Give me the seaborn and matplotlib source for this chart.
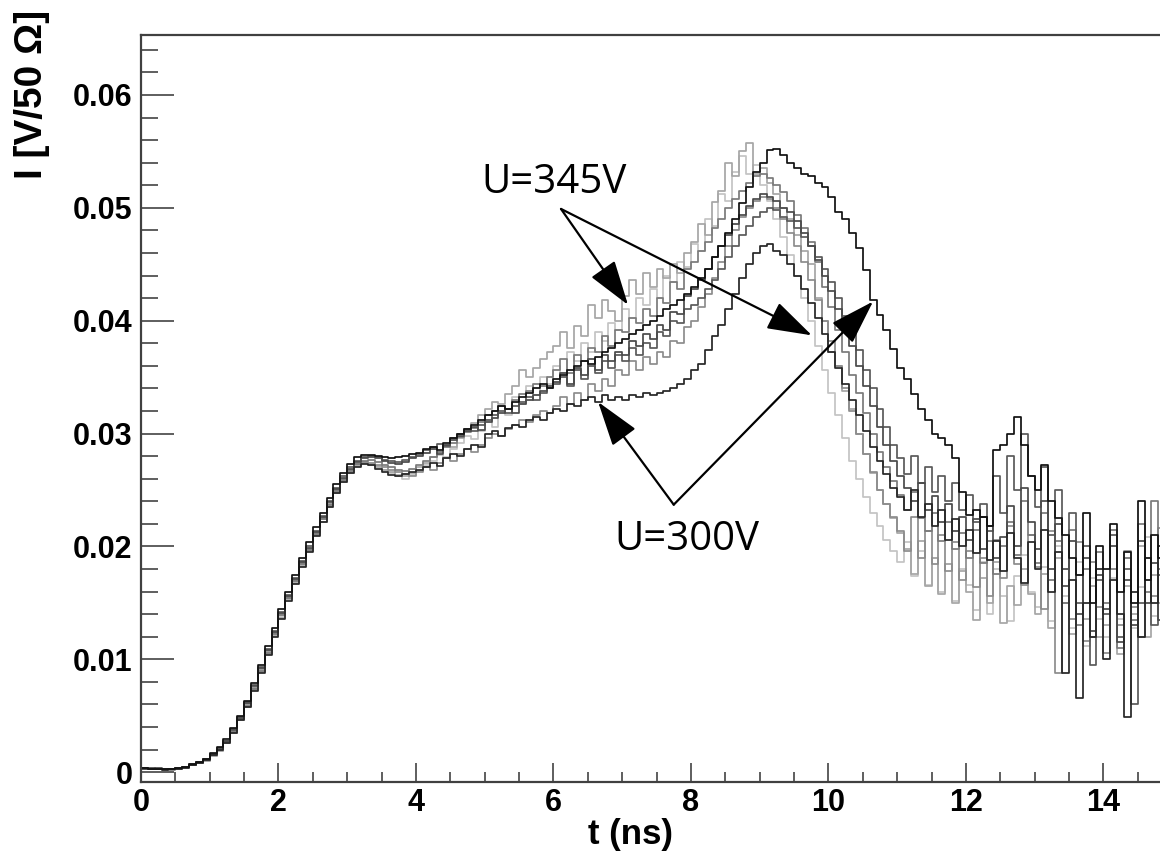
import numpy as np
import pandas as pd
import matplotlib
matplotlib.use("Agg")
import matplotlib.pyplot as plt
import seaborn as sns
from matplotlib.ticker import MultipleLocator, FuncFormatter

# ---------------- data (current in units of 1e-4 V/50 Ohm, 0.1 ns bins) -------------
BIN_NS = 0.1

trace_t1 = [3, 4, 3, 2, 3, 4, 4, 6, 8, 10, 14, 19, 26, 35, 46, 58, 73, 89, 105, 121, 137, 153, 168, 183, 196, 210, 222, 235, 247, 257, 265, 271, 274,
            272, 270, 268, 266, 263, 262, 265,
            270, 274, 279, 284, 290, 288, 296, 303, 309, 316,
            322, 328, 326, 335, 342, 356, 350, 358, 366, 372,
            378, 390, 376, 395, 386, 414, 402, 418, 409, 400,
            422, 436, 424, 442, 430, 446, 438, 450, 442, 460,
            470, 486, 476, 505, 515, 540, 528, 550, 557, 530,
            535, 522, 512, 500, 490, 476, 462, 450, 420, 400,
            372, 360, 338, 322, 300, 282, 265, 250, 238, 225,
            212, 198, 176, 205, 165, 190, 158, 184, 150, 178,
            160, 135, 172, 150, 186, 132, 165, 148, 180, 158,
            140, 176, 128, 190, 150, 122, 175, 136, 165, 120,
            130, 180, 105, 165, 140, 200, 120, 175, 150, 190]

trace_t2 = [4, 3, 3, 3, 2, 3, 5, 6, 8, 11, 15, 20, 27, 36, 47, 59, 74, 90, 106, 122, 139, 154, 169, 184, 197, 211, 224, 237, 249, 259, 267, 273, 276,
            277, 275, 272, 270, 268, 267, 269,
            272, 276, 279, 284, 288, 292, 297, 301, 305, 310,
            316, 320, 324, 322, 330, 335, 338, 344, 342, 350,
            356, 366, 354, 370, 364, 376, 372, 386, 378, 392,
            390, 402, 398, 410, 404, 420, 416, 434, 428, 446,
            452, 462, 470, 482, 490, 500, 508, 515, 522, 528,
            530, 526, 520, 514, 506, 494, 482, 470, 452, 430,
            412, 392, 372, 352, 336, 318, 300, 284, 270, 258,
            246, 232, 248, 225, 214, 230, 205, 222, 198, 212,
            190, 215, 185, 205, 176, 200, 222, 192, 240, 210,
            185, 230, 170, 205, 150, 215, 130, 180, 120, 195,
            150, 215, 110, 190, 135, 220, 160, 240, 180, 215]

trace_t3 = [3, 3, 4, 3, 3, 4, 5, 6, 9, 12, 16, 21, 28, 37, 48, 61, 76, 92, 108, 124, 141, 156, 171, 186, 199, 213, 226, 239, 251, 261, 269, 275, 278,
            279, 278, 276, 274, 273, 275, 278,
            280, 283, 286, 282, 290, 294, 298, 302, 306, 303,
            310, 314, 318, 322, 318, 326, 330, 334, 338, 342,
            346, 354, 344, 358, 352, 366, 356, 370, 364, 372,
            370, 382, 378, 388, 384, 396, 392, 408, 406, 422,
            428, 436, 446, 456, 466, 476, 486, 494, 502, 508,
            512, 510, 506, 500, 496, 488, 478, 466, 454, 440,
            426, 410, 394, 378, 360, 342, 324, 306, 290, 276,
            262, 252, 240, 256, 232, 245, 222, 238, 214, 226,
            206, 224, 198, 218, 190, 208, 236, 200, 252, 222,
            198, 240, 180, 220, 165, 205, 140, 190, 125, 175,
            145, 200, 115, 170, 130, 205, 150, 185, 135, 210]

trace_t4 = [4, 3, 3, 3, 3, 4, 5, 7, 9, 12, 17, 22, 29, 39, 50, 63, 79, 95, 112, 128, 145, 160, 175, 190, 204, 217, 230, 243, 255, 265, 273, 279, 281,
            281, 280, 279, 278, 279, 280, 282,
            283, 286, 288, 285, 292, 296, 300, 304, 308, 312,
            316, 320, 324, 322, 328, 332, 336, 340, 344, 340,
            348, 352, 356, 360, 364, 362, 368, 372, 376, 380,
            384, 388, 392, 396, 400, 404, 410, 414, 418, 424,
            430, 438, 446, 456, 466, 478, 490, 504, 518, 532,
            540, 551, 552, 547, 540, 535, 530, 528, 522, 518,
            510, 496, 490, 478, 464, 445, 418, 405, 392, 375,
            358, 348, 335, 322, 312, 300, 296, 290, 278, 248,
            228, 232, 226, 218, 285, 290, 300, 315, 290, 262,
            250, 272, 240, 225, 210, 190, 175, 230, 150, 200,
            180, 220, 160, 195, 150, 240, 170, 210, 190, 230]

trace_t5 = [4, 3, 3, 2, 3, 3, 4, 6, 8, 11, 15, 20, 26, 35, 46, 58, 72, 88, 104, 120, 136, 152, 167, 182, 195, 209, 222, 235, 247, 257, 265, 270, 273,
            272, 269, 266, 263, 262, 264, 266,
            268, 270, 274, 271, 278, 282, 280, 286, 290, 288,
            300, 302, 298, 305, 308, 306, 312, 315, 312, 318,
            322, 320, 326, 324, 330, 332, 328, 334, 330, 332,
            330, 334, 332, 336, 334, 336, 338, 340, 344, 348,
            356, 362, 374, 386, 396, 410, 424, 438, 450, 460,
            466, 468, 462, 458, 450, 440, 428, 416, 402, 388,
            372, 358, 344, 330, 316, 302, 288, 276, 264, 252,
            244, 232, 250, 226, 238, 218, 232, 206, 224, 200,
            215, 194, 226, 188, 205, 178, 212, 190, 168, 204,
            180, 215, 160, 195, 88, 170, 66, 150, 120, 180,
            100, 170, 140, 49, 160, 120, 190, 150, 200, 170]

trace_t6 = [3, 4, 3, 3, 3, 4, 5, 6, 8, 11, 15, 20, 27, 36, 47, 60, 75, 91, 107, 123, 140, 155, 170, 185, 198, 212, 225, 238, 250, 260, 268, 273, 275,
            274, 272, 270, 268, 266, 264, 262,
            266, 270, 268, 274, 278, 276, 282, 286, 284, 290,
            296, 300, 298, 304, 308, 312, 310, 316, 320, 318,
            324, 332, 326, 336, 330, 344, 338, 348, 342, 356,
            352, 364, 356, 368, 362, 372, 368, 382, 380, 394,
            400, 412, 424, 438, 452, 466, 480, 492, 500, 506,
            510, 508, 500, 490, 478, 466, 452, 436, 418, 400,
            382, 360, 340, 320, 300, 282, 266, 250, 238, 226,
            214, 196, 226, 190, 214, 184, 210, 178, 204, 170,
            196, 164, 190, 156, 206, 172, 218, 184, 166, 210,
            182, 145, 214, 88, 180, 136, 204, 116, 186, 146,
            106, 180, 130, 196, 146, 120, 190, 156, 216, 170]

trace_t7 = [4, 3, 3, 3, 3, 4, 5, 6, 8, 10, 14, 19, 26, 35, 46, 59, 74, 90, 106, 122, 138, 154, 169, 184, 197, 211, 224, 237, 249, 259, 267, 272, 274,
            273, 271, 268, 265, 262, 260, 263,
            267, 272, 276, 281, 279, 286, 292, 298, 295, 302,
            312, 306, 324, 316, 332, 326, 342, 334, 350, 344,
            360, 354, 372, 364, 380, 372, 390, 382, 398, 392,
            410, 402, 420, 414, 428, 420, 440, 434, 452, 448,
            468, 462, 490, 484, 512, 506, 532, 546, 530, 538,
            520, 506, 490, 474, 458, 440, 420, 400, 378, 356,
            336, 316, 296, 276, 260, 244, 230, 218, 206, 196,
            186, 204, 174, 196, 166, 190, 160, 184, 152, 180,
            166, 144, 186, 140, 180, 156, 134, 174, 192, 160,
            146, 182, 134, 200, 156, 128, 186, 112, 172, 136,
            120, 172, 136, 190, 128, 164, 208, 138, 180, 146]

trace_t8 = [4, 4, 3, 3, 3, 4, 5, 7, 9, 12, 16, 21, 28, 38, 49, 62, 77, 93, 109, 125, 142, 157, 172, 187, 200, 214, 227, 240, 252, 262, 270, 276, 279,
            280, 279, 277, 276, 275, 277, 279,
            282, 285, 288, 291, 289, 296, 300, 304, 302, 308,
            312, 316, 320, 318, 324, 328, 332, 330, 336, 340,
            344, 350, 342, 356, 348, 360, 354, 364, 358, 370,
            364, 376, 370, 380, 376, 390, 386, 400, 398, 410,
            414, 420, 428, 436, 446, 456, 466, 476, 484, 492,
            496, 500, 498, 492, 488, 482, 474, 466, 456, 446,
            434, 420, 404, 390, 374, 356, 340, 322, 306, 290,
            278, 264, 280, 256, 270, 248, 262, 240, 256, 232,
            246, 222, 238, 214, 262, 230, 280, 250, 300, 262,
            235, 270, 210, 250, 180, 230, 150, 200, 95, 170,
            140, 210, 120, 180, 60, 150, 190, 130, 175, 200]

trace_names = ["T1", "T2", "T3", "T4", "T5", "T6", "T7", "T8"]
trace_colors = ["#a6a6a6", "#7a7a7a", "#4a4a4a", "#111111", "#262626", "#8c8c8c", "#c4c4c4", "#5a5a5a"]
draw_order = ["T7", "T1", "T6", "T2", "T8", "T3", "T5", "T4"]

x_ticks = [0, 2, 4, 6, 8, 10, 12, 14]
y_ticks = [0, 0.01, 0.02, 0.03, 0.04, 0.05, 0.06]

label_345 = "U=345V"
label_300 = "U=300V"
arrow_345_from = (6.11, 0.0499)
arrow_345_to = [(7.085, 0.0414), (9.76, 0.0387)]
arrow_300_from = (7.75, 0.0237)
arrow_300_to = [(6.65, 0.0328), (10.65, 0.0417)]

# ---------------- build long-form table ----------------
traces = [trace_t1, trace_t2, trace_t3, trace_t4, trace_t5, trace_t6, trace_t7, trace_t8]
frames = []
for name, vals in zip(trace_names, traces):
    v = np.asarray(vals, dtype=float) * 1e-4
    t = np.arange(len(v)) * BIN_NS
    frames.append(pd.DataFrame({"t": t, "I": v, "trace": name}))
df = pd.concat(frames, ignore_index=True)
palette = dict(zip(trace_names, trace_colors))

# ---------------- style ----------------
sns.set_style("ticks")
plt.rcParams["font.family"] = ["Liberation Sans", "DejaVu Sans"]
plt.rcParams["font.weight"] = "bold"
plt.rcParams["text.color"] = "black"
plt.rcParams["axes.labelcolor"] = "black"
plt.rcParams["xtick.labelcolor"] = "black"
plt.rcParams["ytick.labelcolor"] = "black"

fig = plt.figure(figsize=(11.6, 8.57), dpi=100)
ax = fig.add_axes([141 / 1160, 1 - 782 / 857, 1 - 141 / 1160, (782 - 35) / 857])

sns.lineplot(data=df, x="t", y="I", hue="trace", hue_order=draw_order,
             palette=palette, drawstyle="steps-post", estimator=None,
             sort=False, legend=False, linewidth=1.25, ax=ax)

ax.set_xlim(0, 1019 / 68.74)
ax.set_ylim(-0.00087, 0.06531)

ax.set_xticks(x_ticks)
ax.set_yticks(y_ticks)
ax.xaxis.set_minor_locator(MultipleLocator(0.5))
ax.yaxis.set_minor_locator(MultipleLocator(0.002))
ax.xaxis.set_major_formatter(FuncFormatter(lambda v, p: f"{v:.0f}"))
ax.yaxis.set_major_formatter(FuncFormatter(lambda v, p: "0" if abs(v) < 1e-9 else f"{v:.2f}"))

ax.tick_params(axis="both", which="both", direction="in", color="#333333",
               width=1.1, labelsize=22, labelcolor="black", top=False, right=False)
ax.tick_params(axis="y", which="major", length=24, pad=6)
ax.tick_params(axis="y", which="minor", length=12)
ax.tick_params(axis="x", which="major", length=14, pad=4)
ax.tick_params(axis="x", which="minor", length=7)

for side in ["left", "bottom", "top"]:
    ax.spines[side].set_linewidth(1.6)
    ax.spines[side].set_color("#404040")
ax.spines["right"].set_visible(False)

ax.set_xlabel("t (ns)", fontsize=25, fontweight="bold", color="black")
ax.xaxis.set_label_coords(0.48, -0.048)
ax.set_ylabel("I [V/50 Ω]", fontsize=28, fontweight="bold", loc="top", color="black")
ax.yaxis.set_label_coords(-0.0893, 1.0335)

# ---------------- annotations ----------------
arrow_kw = dict(arrowstyle="-|>,head_length=1.4,head_width=0.45", mutation_scale=20,
                color="black", lw=1.6, shrinkA=0, shrinkB=0)
for tip in arrow_345_to:
    ax.annotate("", xy=tip, xytext=arrow_345_from, arrowprops=arrow_kw)
for tip in arrow_300_to:
    ax.annotate("", xy=tip, xytext=arrow_300_from, arrowprops=arrow_kw)

ax.text(4.95, 0.0513, label_345, fontsize=29, family=["Open Sans", "DejaVu Sans"],
        fontweight="normal", ha="left", va="baseline", color="black")
ax.text(6.88, 0.0197, label_300, fontsize=29, family=["Open Sans", "DejaVu Sans"],
        fontweight="normal", ha="left", va="baseline", color="black")

fig.savefig("out.png", dpi=100)
